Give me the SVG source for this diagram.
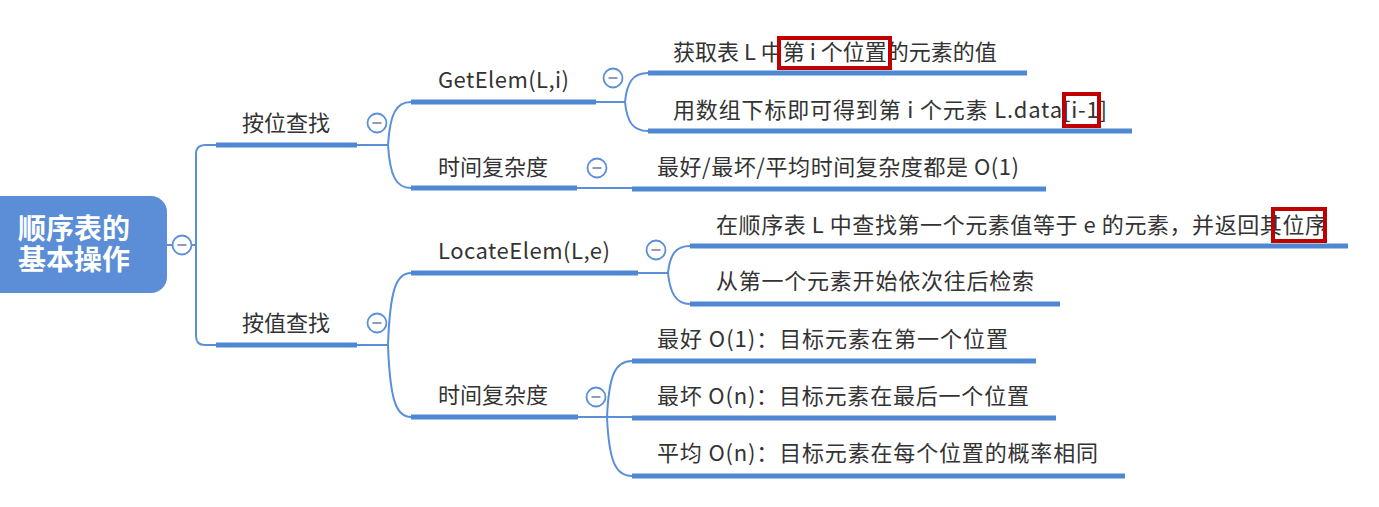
<svg xmlns="http://www.w3.org/2000/svg" width="1379" height="507" viewBox="0 0 1379 507">
<style>
text{font-family:"Noto Sans CJK SC","Noto Sans",sans-serif;font-size:22px;fill:#333;}
.root{font-size:28px;font-weight:bold;fill:#fff;}
.ul{stroke:#4f87d2;stroke-width:5;fill:none;}
.cn{stroke:#5b8fd9;stroke-width:2;fill:none;}
.tg{fill:#fff;stroke:#5b8fd9;stroke-width:1.8;}
.dash{stroke:#8e9ac2;stroke-width:2;}
.hl{fill:none;stroke:#c00000;stroke-width:4;}
</style>
<defs>
<g id="toggle"><circle class="tg" r="9.5"/><line class="dash" x1="-4.5" y1="0" x2="4.5" y2="0"/></g>
</defs>
<rect width="1379" height="507" fill="#fff"/>
<g id="connectors">
<path class="cn" d="M167,245 H196"/>
<path class="cn" d="M216,145 H205 Q196,145 196,154 V336 Q196,345 205,345 H216"/>
<path class="cn" d="M357,145 H388 M388,145 C390,114 396,102 411,102 M388,145 C390,176 396,188 411,188"/>
<path class="cn" d="M596,102 H625 M625,102 C627,82 633,73 648,73 M625,102 C627,122 633,131 648,131"/>
<path class="cn" d="M577,188 H632"/>
<path class="cn" d="M357,345 H388 M388,345 C390,290 396,273 411,273 M388,345 C390,400 396,417 411,417"/>
<path class="cn" d="M638,273 H668 M668,273 C670,254 676,246 690,246 M668,273 C670,293 676,304 690,304"/>
<path class="cn" d="M578,417 H632 M607,417 C609,375 615,361 632,361 M607,417 C609,460 615,476 632,476"/>
</g>
<g id="root">
<rect x="-20" y="196" width="187" height="97" rx="16" fill="#5b8ed6"/>
<text class="root"><tspan x="18" y="239">顺序表的</tspan><tspan x="18" y="270">基本操作</tspan></text>
<use href="#toggle" x="182" y="245"/>
</g>
<g id="n1">
<text x="242" y="131">按位查找</text>
<line class="ul" x1="216" y1="145" x2="357" y2="145"/>
<use href="#toggle" x="377" y="123"/>
</g>
<g id="n1a">
<text x="438" y="88" textLength="131" lengthAdjust="spacing">GetElem(L,i)</text>
<line class="ul" x1="411" y1="102" x2="596" y2="102"/>
<use href="#toggle" x="613" y="78"/>
</g>
<g id="n1a1">
<text x="673" y="60">获取表 L 中第 i 个位置的元素的值</text>
<line class="ul" x1="648" y1="73" x2="1027" y2="73"/>
</g>
<g id="n1a2">
<text x="673" y="118" textLength="434" lengthAdjust="spacing">用数组下标即可得到第 i 个元素 L.data[i-1]</text>
<line class="ul" x1="648" y1="131" x2="1132" y2="131"/>
</g>
<g id="n1b">
<text x="438" y="175">时间复杂度</text>
<line class="ul" x1="411" y1="188" x2="577" y2="188"/>
<use href="#toggle" x="597" y="168"/>
</g>
<g id="n1b1">
<text x="657" y="175" textLength="362" lengthAdjust="spacing">最好/最坏/平均时间复杂度都是 O(1)</text>
<line class="ul" x1="632" y1="189" x2="1046" y2="189"/>
</g>
<g id="n2">
<text x="242" y="331">按值查找</text>
<line class="ul" x1="216" y1="345" x2="357" y2="345"/>
<use href="#toggle" x="377" y="323"/>
</g>
<g id="n2a">
<text x="438" y="259" textLength="172" lengthAdjust="spacing">LocateElem(L,e)</text>
<line class="ul" x1="411" y1="273" x2="638" y2="273"/>
<use href="#toggle" x="656" y="250"/>
</g>
<g id="n2a1">
<text x="716" y="233" textLength="611" lengthAdjust="spacing">在顺序表 L 中查找第一个元素值等于 e 的元素，并返回其位序</text>
<line class="ul" x1="690" y1="246" x2="1348" y2="246"/>
</g>
<g id="n2a2">
<text x="716" y="289" textLength="318" lengthAdjust="spacing">从第一个元素开始依次往后检索</text>
<line class="ul" x1="690" y1="304" x2="1060" y2="304"/>
</g>
<g id="n2b">
<text x="438" y="403">时间复杂度</text>
<line class="ul" x1="411" y1="417" x2="578" y2="417"/>
<use href="#toggle" x="596" y="397"/>
</g>
<g id="n2b1">
<text x="657" y="347" textLength="351" lengthAdjust="spacing">最好 O(1)：目标元素在第一个位置</text>
<line class="ul" x1="632" y1="361" x2="1036" y2="361"/>
</g>
<g id="n2b2">
<text x="657" y="404" textLength="372" lengthAdjust="spacing">最坏 O(n)：目标元素在最后一个位置</text>
<line class="ul" x1="632" y1="418" x2="1056" y2="418"/>
</g>
<g id="n2b3">
<text x="657" y="461" textLength="441" lengthAdjust="spacing">平均 O(n)：目标元素在每个位置的概率相同</text>
<line class="ul" x1="632" y1="476" x2="1125" y2="476"/>
</g>
<g id="highlights">
<rect class="hl" x="779" y="38" width="111" height="30"/>
<rect class="hl" x="1064" y="94" width="35" height="32"/>
<rect class="hl" x="1273" y="209" width="52" height="32"/>
</g>
</svg>
